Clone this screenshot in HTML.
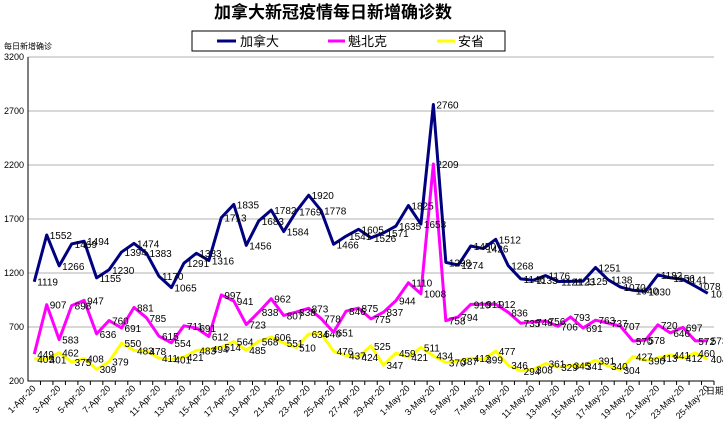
<!DOCTYPE html>
<html><head><meta charset="utf-8"><style>
body{margin:0;background:#fff;}
svg{display:block;font-family:"Liberation Sans","Noto Sans CJK SC",sans-serif;}
</style></head><body>
<svg id="chart" width="723" height="423">
<text x="333" y="18" text-anchor="middle" font-size="17" font-weight="bold">加拿大新冠疫情每日新增确诊数</text>
<g>
<rect x="192" y="31" width="313" height="20" fill="#fff" stroke="#000" stroke-width="1"/>
<line x1="217" y1="41" x2="236" y2="41" stroke="#000080" stroke-width="3"/>
<text x="240" y="46" font-size="13">加拿大</text>
<line x1="328" y1="41" x2="345" y2="41" stroke="#ff00ff" stroke-width="3"/>
<text x="348" y="46" font-size="13">魁北克</text>
<line x1="437" y1="41" x2="455" y2="41" stroke="#ffff00" stroke-width="3"/>
<text x="458" y="46" font-size="13">安省</text>
</g>
<text x="4" y="49" font-size="8">每日新增确诊</text>
<text x="706" y="394" font-size="9">日期</text>
</svg>
<script>
const categories = (function(){const a=[];for(let i=1;i<=30;i++)a.push(i+'-Apr-20');for(let i=1;i<=25;i++)a.push(i+'-May-20');return a;})();
const canada = [1119,1552,1266,1469,1494,1155,1230,1394,1474,1383,1170,1065,1291,1383,1316,1713,1835,1456,1683,1782,1584,1769,1920,1778,1466,1541,1605,1526,1571,1635,1825,1653,2760,1298,1274,1450,1426,1512,1268,1146,1133,1176,1121,1123,1125,1251,1138,1070,1040,1030,1182,1156,1141,1078,1012];
const quebec = [449,907,583,898,947,636,760,691,881,785,615,554,711,691,612,997,941,723,838,962,807,838,873,778,651,846,875,775,837,944,1110,1008,2209,758,794,910,911,912,836,735,748,756,706,793,691,763,737,707,570,578,720,646,697,572,573];
const ontario = [405,401,462,375,408,309,379,550,483,478,411,401,421,483,494,514,564,485,568,606,551,510,634,640,476,437,424,525,347,459,421,511,434,370,387,412,399,477,346,294,308,361,329,345,341,391,340,304,427,390,413,441,412,460,404];
const yTicks = [200,700,1200,1700,2200,2700,3200];
const NS='http://www.w3.org/2000/svg';
const svg=document.getElementById('chart');
const L=28,R=714,T=57,B=381,ymin=200,ymax=3200;
const step=(R-L)/categories.length;
function xs(i){return L+step*(i+0.5);}
function ys(v){return B-(v-ymin)/(ymax-ymin)*(B-T);}
function mk(tag,attrs){const e=document.createElementNS(NS,tag);for(const k in attrs)e.setAttribute(k,attrs[k]);svg.appendChild(e);return e;}
yTicks.forEach(v=>{
  if(v>ymin){const g=mk('line',{x1:L,x2:R,y1:ys(v),y2:ys(v),stroke:'#b0b0b0','stroke-width':1});
  
  }
  const t=mk('text',{x:L-4,y:ys(v)+3,'text-anchor':'end','font-size':9});
  t.textContent=v;
  
  
});
const ax=mk('path',{d:`M${L},${T}V${B}H${R}`,fill:'none',stroke:'#000','stroke-width':1});


categories.forEach((c,i)=>{
  const tk=mk('line',{x1:L+step*(i+1),x2:L+step*(i+1),y1:B,y2:B+4,stroke:'#000'});
  
  
  if(i%2===0){
    const x=xs(i)+2,y=B+8;
    const t=mk('text',{x:x,y:y,'text-anchor':'end','font-size':9,transform:`rotate(-45 ${x} ${y})`});
    t.textContent=c;
    
    
  }
});
function series(data,color,name){
  const p=mk('polyline',{points:data.map((v,i)=>xs(i)+','+ys(v)).join(' '),fill:'none',stroke:color,'stroke-width':3,'stroke-linejoin':'round'});
  
  
  data.forEach((v,i)=>{
    const t=mk('text',{x:xs(i)+3,y:ys(v)+4,'font-size':10,fill:'#000'});
    t.textContent=v;
    
    
  });
}
series(ontario,'#ffff00','ontario');
series(quebec,'#ff00ff','quebec');
series(canada,'#000080','canada');
</script>
</body></html>
